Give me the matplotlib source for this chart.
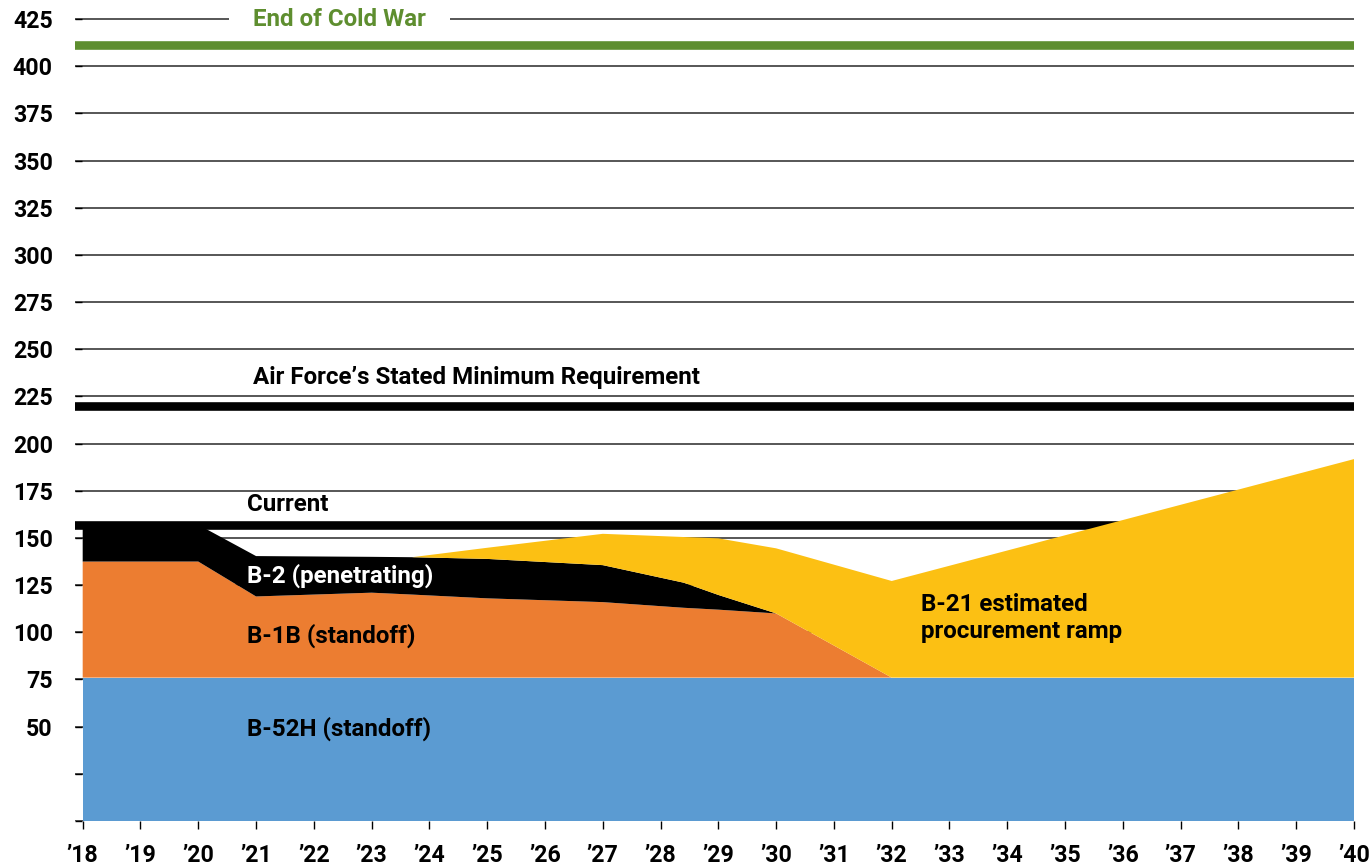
import matplotlib
matplotlib.use("Agg")
import matplotlib.pyplot as plt

# ---- data ----
years = [2018, 2020, 2021, 2023, 2023.7, 2025, 2027, 2028.4, 2029, 2030, 2032, 2040]
b52h = [76, 76, 76, 76, 76, 76, 76, 76, 76, 76, 76, 76]
b1b = [61.5, 61.5, 43, 45, 44, 42, 40, 37, 36, 34, 0, 0]
b2 = [19.5, 19.5, 21.4, 19, 19.8, 20.9, 19.6, 13.3, 7.8, 0, 0, 0]
b21 = [0, 0, 0, 0, 0, 5.9, 16.6, 24.2, 30, 34.5, 51.2, 115.8]

end_cold_war = 411
min_requirement = 220
current_level = 157

ytick_values = [0, 25, 50, 75, 100, 125, 150, 175, 200, 225, 250, 275, 300, 325, 350, 375, 400, 425]
ytick_labels = ["", "", "50", "75", "100", "125", "150", "175", "200", "225", "250",
                "275", "300", "325", "350", "375", "400", "425"]
xtick_years = [2018, 2019, 2020, 2021, 2022, 2023, 2024, 2025, 2026, 2027, 2028, 2029,
               2030, 2031, 2032, 2033, 2034, 2035, 2036, 2037, 2038, 2039, 2040]
xtick_labels = ["\u2019" + str(y)[2:] for y in xtick_years]

colors = ["#5B9BD2", "#EC7D31", "#000000", "#FCC013"]
green = "#5E8E2F"
FONT = "Roboto"

fig = plt.figure(figsize=(13.69, 8.65), dpi=100)
ax = fig.add_axes([75 / 1369, 44 / 865, 1279 / 1369, 807.6 / 865])

ax.stackplot(years, b52h, b1b, b2, b21, colors=colors, linewidth=0, zorder=2)

ax.axhline(current_level, color="black", lw=6.2, zorder=1)
ax.axhline(min_requirement, color="black", lw=6.2, zorder=3)
ax.axhline(end_cold_war, color=green, lw=6.2, zorder=5)

ax.set_xlim(2017.867, 2040)
ax.set_ylim(0, 428)

ax.set_axisbelow(True)
ax.yaxis.grid(True, color="#3a3a3a", lw=1.2)
ax.xaxis.grid(False)
for s in ax.spines.values():
    s.set_visible(False)

ax.set_yticks(ytick_values)
ax.set_yticklabels(ytick_labels, fontsize=16.7, fontweight="bold", family=FONT)
ax.tick_params(axis="y", direction="in", length=5, width=1, pad=16, colors="black")
ax.set_xticks(xtick_years)
ax.set_xticklabels(xtick_labels, fontsize=16.7, fontweight="bold", family=FONT)
ax.tick_params(axis="x", direction="out", length=6, width=1, pad=10.5, colors="black")

tk = dict(fontweight="bold", family=FONT, fontsize=17.4)
ax.text(2022.44, 425, "End of Cold War", color=green, ha="center", va="center", zorder=4,
        bbox=dict(facecolor="white", edgecolor="none", boxstyle="square,pad=1.0"), **tk)
ax.text(2020.95, 234.8, "Air Force\u2019s Stated Minimum Requirement", color="black",
        ha="left", va="center", zorder=6, **tk)
ax.text(2020.84, 167.5, "Current", color="black", ha="left", va="center", zorder=6, **tk)
ax.text(2020.84, 129.8, "B-2 (penetrating)", color="white", ha="left", va="center", zorder=6, **tk)
ax.text(2020.84, 98, "B-1B (standoff)", color="black", ha="left", va="center", zorder=6, **tk)
ax.text(2020.84, 48.8, "B-52H (standoff)", color="black", ha="left", va="center", zorder=6, **tk)
ax.text(2032.5, 107.6, "B-21 estimated\nprocurement ramp", color="black", ha="left",
        va="center", linespacing=1.2, zorder=6, **tk)

fig.savefig("out.png", dpi=100)
